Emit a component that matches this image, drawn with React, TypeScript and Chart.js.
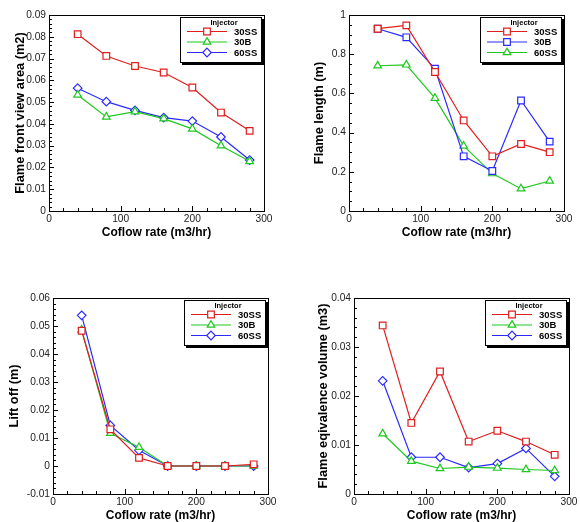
import React, { useEffect, useRef } from 'react';
import { Chart, registerables } from 'chart.js';

Chart.register(...registerables);

// ---------- data ----------
const coflowRate = [40, 80, 120, 160, 200, 240, 280];
const xTickValues = [0, 100, 200, 300];
const injectorTitle = 'Injector';
const xAxisTitle = 'Coflow rate (m3/hr)';

// Panel 1: flame front view area (m2)
const area30SS = [0.0812, 0.0712, 0.0666, 0.0636, 0.0567, 0.0452, 0.0368];
const area30B = [0.0533, 0.0432, 0.0456, 0.0424, 0.0377, 0.0300, 0.0228];
const area60SS = [0.0564, 0.0502, 0.0462, 0.0429, 0.0413, 0.0340, 0.0234];
const areaYTicks = [0, 0.01, 0.02, 0.03, 0.04, 0.05, 0.06, 0.07, 0.08, 0.09];

// Panel 2: flame length (m)
const length30SS = [0.930, 0.947, 0.709, 0.462, 0.279, 0.342, 0.300];
const length30B = [0.930, 0.886, 0.726, 0.279, 0.204, 0.564, 0.354];
const length60SS = [0.741, 0.746, 0.576, 0.332, 0.191, 0.114, 0.153];
const lengthYTicks = [0, 0.2, 0.4, 0.6, 0.8, 1];

// Panel 3: lift off (m)
const lift30SS = [0.0483, 0.0131, 0.0029, 0, 0, 0, 0.0006];
const lift30B = [0.0486, 0.0117, 0.0067, 0, 0, 0, 0];
const lift60SS = [0.0538, 0.0145, 0.0056, 0, 0, 0, 0];
const liftYTicks = [-0.01, 0, 0.01, 0.02, 0.03, 0.04, 0.05, 0.06];

// Panel 4: flame equivalence volume (m3)
const vol30SS = [0.0344, 0.0145, 0.0250, 0.0107, 0.0129, 0.0107, 0.0080];
const vol30B = [0.0123, 0.0067, 0.0052, 0.0055, 0.0053, 0.0050, 0.0048];
const vol60SS = [0.0231, 0.0075, 0.0075, 0.0054, 0.0062, 0.0093, 0.0036];
const volYTicks = [0, 0.01, 0.02, 0.03, 0.04];

// ---------- styles ----------
const RED = '#e01e1e';
const GREEN = '#1ec81e';
const BLUE = '#2a2aff';
const FONT = "'Liberation Sans', Arial, Helvetica, sans-serif";

type Series = { label: string; values: number[]; color: string; shape: string };

type Panel = {
  box: { left: number; top: number; w: number; h: number };
  plot: { l: number; t: number; r: number; b: number };
  yTitleX: number;
  xTitleY: number;
  yTitle: string;
  yTicks: number[];
  yMinor: number;
  series: Series[];
};

const panels: Panel[] = [
  {
    box: { left: 0, top: 0, w: 290, h: 260 },
    plot: { l: 49, t: 15, r: 264, b: 211 },
    yTitleX: 20, xTitleY: 233,
    yTitle: 'Flame front view area (m2)',
    yTicks: areaYTicks, yMinor: 0.002,
    series: [
      { label: '30SS', values: area30SS, color: RED, shape: 'rect' },
      { label: '30B', values: area30B, color: GREEN, shape: 'triangle' },
      { label: '60SS', values: area60SS, color: BLUE, shape: 'rectRot' },
    ],
  },
  {
    box: { left: 290, top: 0, w: 290, h: 260 },
    plot: { l: 59, t: 15, r: 274, b: 211 },
    yTitleX: 29.5, xTitleY: 233,
    yTitle: 'Flame length (m)',
    yTicks: lengthYTicks, yMinor: 0.05,
    series: [
      { label: '30SS', values: length30SS, color: RED, shape: 'rect' },
      { label: '30B', values: length30B, color: BLUE, shape: 'rect' },
      { label: '60SS', values: length60SS, color: GREEN, shape: 'triangle' },
    ],
  },
  {
    box: { left: 0, top: 260, w: 290, h: 262 },
    plot: { l: 53, t: 38, r: 268, b: 234 },
    yTitleX: 14, xTitleY: 256,
    yTitle: 'Lift off (m)',
    yTicks: liftYTicks, yMinor: 0.002,
    series: [
      { label: '30SS', values: lift30SS, color: RED, shape: 'rect' },
      { label: '30B', values: lift30B, color: GREEN, shape: 'triangle' },
      { label: '60SS', values: lift60SS, color: BLUE, shape: 'rectRot' },
    ],
  },
  {
    box: { left: 290, top: 260, w: 290, h: 262 },
    plot: { l: 64, t: 38, r: 279, b: 234 },
    yTitleX: 33.3, xTitleY: 256,
    yTitle: 'Flame eqivalence volume (m3)',
    yTicks: volYTicks, yMinor: 0.002,
    series: [
      { label: '30SS', values: vol30SS, color: RED, shape: 'rect' },
      { label: '30B', values: vol30B, color: GREEN, shape: 'triangle' },
      { label: '60SS', values: vol60SS, color: BLUE, shape: 'rectRot' },
    ],
  },
];

function radiusFor(shape: string) {
  if (shape === 'rect') return 4.7;
  if (shape === 'rectRot') return 4.3;
  return 4.4;
}

function drawShape(ctx: CanvasRenderingContext2D, shape: string, x: number, y: number, r: number) {
  ctx.beginPath();
  if (shape === 'rect') {
    const s = Math.SQRT1_2 * r;
    ctx.rect(x - s, y - s, 2 * s, 2 * s);
  } else if (shape === 'rectRot') {
    ctx.moveTo(x, y - r);
    ctx.lineTo(x + r, y);
    ctx.lineTo(x, y + r);
    ctx.lineTo(x - r, y);
    ctx.closePath();
  } else {
    for (let k = 0; k < 3; k++) {
      const a = (k * 2 * Math.PI) / 3;
      const px = x + Math.sin(a) * r;
      const py = y - Math.cos(a) * r;
      if (k === 0) ctx.moveTo(px, py);
      else ctx.lineTo(px, py);
    }
    ctx.closePath();
  }
  ctx.fill();
  ctx.stroke();
}

const framePlugin = {
  id: 'tecFrame',
  afterDraw(chart: any, _args: any, opts: any) {
    const { ctx, chartArea: a, scales } = chart;
    const xs = scales.x;
    const ys = scales.y;
    ctx.save();
    ctx.strokeStyle = '#000';
    ctx.lineWidth = 1;
    ctx.beginPath();
    // x ticks (inward)
    const xMajor = opts.xMajor, xMinor = opts.xMinor;
    for (let i = 0; i * xMinor <= xs.max - xs.min + 1e-9; i++) {
      const v = xs.min + i * xMinor;
      const px = Math.round(xs.getPixelForValue(v)) + 0.5;
      const ratio = (v - xs.min) / xMajor;
      const major = Math.abs(ratio - Math.round(ratio)) < 1e-6;
      ctx.moveTo(px, a.bottom);
      ctx.lineTo(px, a.bottom - (major ? 5 : 3));
    }
    // y ticks (inward)
    const yMajor = opts.yMajor, yMinor = opts.yMinor;
    const n = Math.round((ys.max - ys.min) / yMinor);
    for (let i = 0; i <= n; i++) {
      const v = ys.min + i * yMinor;
      const py = Math.round(ys.getPixelForValue(v)) + 0.5;
      const ratio = (v - ys.min) / yMajor;
      const major = Math.abs(ratio - Math.round(ratio)) < 1e-6;
      ctx.moveTo(a.left, py);
      ctx.lineTo(a.left + (major ? 5 : 3), py);
    }
    ctx.stroke();
    // frame
    ctx.strokeRect(Math.round(a.left) + 0.5, Math.round(a.top) + 0.5, Math.round(a.right - a.left), Math.round(a.bottom - a.top));

    // legend box
    const bw = 82, bh = 46;
    const bx = Math.round(a.right) - 84;
    const by = Math.round(a.top) + 2;
    ctx.fillStyle = '#000';
    ctx.fillRect(bx + 2, by + 2, bw, bh);
    ctx.fillStyle = '#fff';
    ctx.fillRect(bx, by, bw, bh);
    ctx.strokeRect(bx + 0.5, by + 0.5, bw - 1, bh - 1);

    ctx.fillStyle = '#000';
    ctx.textAlign = 'center';
    ctx.textBaseline = 'middle';
    ctx.font = `bold 7.5px ${FONT}`;
    ctx.fillText(injectorTitle, bx + 44, by + 5.5);

    const rows = [14.5, 25, 35.5];
    chart.data.datasets.forEach((ds: any, i: number) => {
      const ry = by + rows[i];
      ctx.strokeStyle = ds.borderColor;
      ctx.lineWidth = 1.2;
      ctx.beginPath();
      ctx.moveTo(bx + 7, ry);
      ctx.lineTo(bx + 47, ry);
      ctx.stroke();
      ctx.fillStyle = '#fff';
      drawShape(ctx, ds.pointStyle, bx + 27, ry, ds.pointRadius);
      ctx.fillStyle = '#000';
      ctx.textAlign = 'left';
      ctx.font = `bold 9.5px ${FONT}`;
      ctx.fillText(ds.label, bx + 54, ry + 0.5);
    });
    ctx.restore();
  },
};

function fmt(v: number) {
  if (Math.abs(v) < 1e-12) return '0';
  return String(parseFloat(v.toFixed(4)));
}

function PanelChart({ p }: { p: Panel }) {
  const ref = useRef<HTMLCanvasElement | null>(null);
  useEffect(() => {
    if (!ref.current) return;
    const lh = 12;
    const ylh = 12.8;
    const padLeft = p.yTitleX - ylh / 2;
    const yW = p.plot.l - padLeft;
    const xBottom = p.xTitleY + lh / 2;
    const xH = xBottom - p.plot.b;
    const padBottom = p.box.h - xBottom;
    const padRight = p.box.w - p.plot.r;
    const yMin = p.yTicks[0];
    const yMax = p.yTicks[p.yTicks.length - 1];
    const yStep = p.yTicks[1] - p.yTicks[0];

    const chart = new Chart(ref.current, {
      type: 'line',
      data: {
        datasets: p.series.map((s) => ({
          label: s.label,
          data: coflowRate.map((x, i) => ({ x, y: s.values[i] })),
          borderColor: s.color,
          backgroundColor: s.color,
          borderWidth: 1.2,
          pointStyle: s.shape,
          pointRadius: radiusFor(s.shape),
          pointBorderWidth: 1.2,
          pointBorderColor: s.color,
          pointBackgroundColor: '#fff',
          tension: 0,
          fill: false,
        })),
      },
      options: {
        responsive: false,
        animation: false,
        layout: { padding: { left: padLeft, top: p.plot.t, right: padRight, bottom: padBottom } },
        plugins: {
          legend: { display: false },
          tooltip: { enabled: false },
          tecFrame: { xMajor: 100, xMinor: 20, yMajor: yStep, yMinor: p.yMinor },
        } as any,
        scales: {
          x: {
            type: 'linear',
            min: xTickValues[0],
            max: xTickValues[xTickValues.length - 1],
            grid: { display: false, drawTicks: false },
            border: { display: false },
            afterBuildTicks: (s: any) => { s.ticks = xTickValues.map((v) => ({ value: v })); },
            ticks: {
              padding: 2,
              color: '#222',
              font: { family: FONT, size: 10.2 },
              maxRotation: 0,
              autoSkip: false,
              callback: (v: any) => fmt(Number(v)),
            },
            title: {
              display: true,
              text: xAxisTitle,
              color: '#000',
              font: { family: FONT, size: 12, weight: 'bold', lineHeight: 1 },
              padding: 0,
            },
            afterFit: (s: any) => { s.height = xH; },
          },
          y: {
            type: 'linear',
            min: yMin,
            max: yMax,
            grid: { display: false, drawTicks: false },
            border: { display: false },
            afterBuildTicks: (s: any) => { s.ticks = p.yTicks.map((v) => ({ value: v })); },
            ticks: {
              padding: 3,
              color: '#222',
              font: { family: FONT, size: 10.2 },
              autoSkip: false,
              callback: (v: any) => fmt(Number(v)),
            },
            title: {
              display: true,
              text: p.yTitle,
              color: '#000',
              font: { family: FONT, size: 12.8, weight: 'bold', lineHeight: 1 },
              padding: 0,
            },
            afterFit: (s: any) => { s.width = yW; },
          },
        },
      } as any,
      plugins: [framePlugin],
    });
    return () => chart.destroy();
  }, [p]);

  return (
    <canvas
      ref={ref}
      width={p.box.w}
      height={p.box.h}
      style={{ position: 'absolute', left: p.box.left, top: p.box.top, width: p.box.w, height: p.box.h }}
    />
  );
}

export default function App() {
  return (
    <div style={{ position: 'fixed', left: 0, top: 0, width: 580, height: 522, background: '#fff', overflow: 'hidden' }}>
      {panels.map((p, i) => (
        <PanelChart key={i} p={p} />
      ))}
    </div>
  );
}
